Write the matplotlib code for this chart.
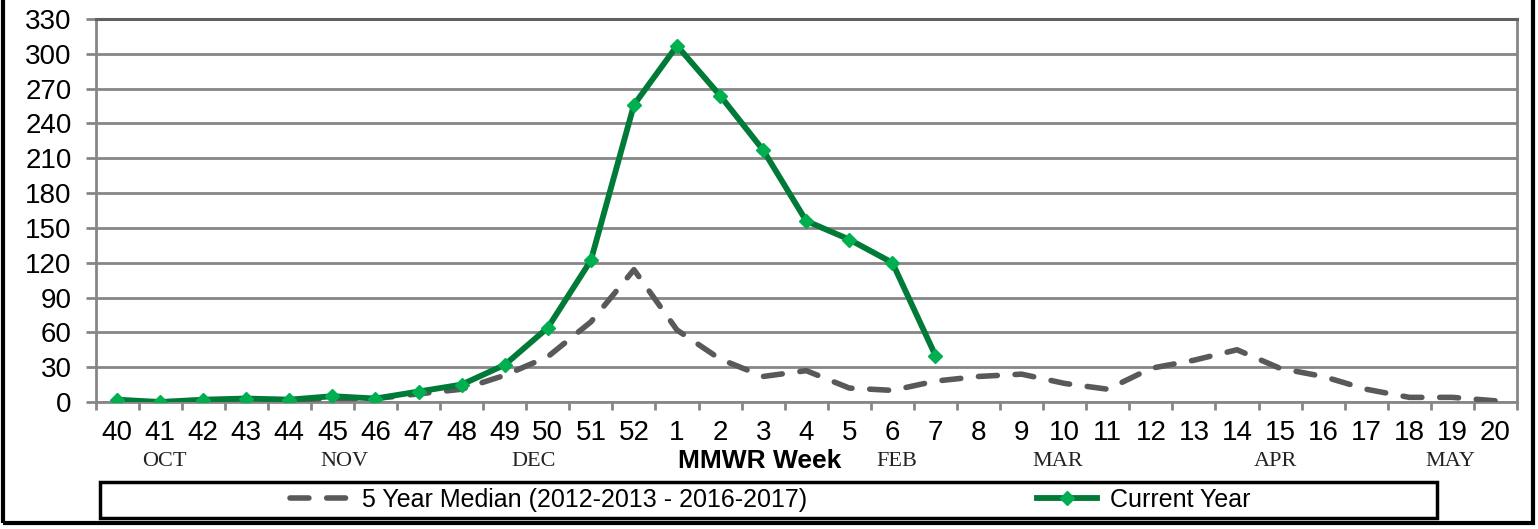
import matplotlib
matplotlib.use("Agg")
import matplotlib.pyplot as plt
from matplotlib.lines import Line2D
from matplotlib.patches import Rectangle
from matplotlib.ticker import FixedLocator, MultipleLocator
from matplotlib.transforms import blended_transform_factory

# semanas MMWR y valores
weeks = ["40", "41", "42", "43", "44", "45", "46", "47", "48", "49", "50", "51", "52",
         "1", "2", "3", "4", "5", "6", "7", "8", "9", "10", "11", "12", "13", "14",
         "15", "16", "17", "18", "19", "20"]
median_5yr = [1, 0, 1, 2, 2, 3, 3, 7, 11, 23, 39, 69, 114, 62, 37, 22, 27, 12, 10,
              18, 22, 24, 16, 11, 29, 36, 45, 29, 22, 11, 4, 4, 1]
current_year = [2, 0, 2, 3, 2, 5, 3, 9, 15, 32, 64, 122, 256, 307, 264, 217, 156,
                140, 120, 40]
months = ["OCT", "NOV", "DEC", "FEB", "MAR", "APR", "MAY"]
month_pos = [1.09, 5.27, 9.66, 18.1, 21.83, 26.9, 30.96]

sans = ["Liberation Sans Narrow", "Liberation Sans"]
serif = ["Liberation Serif"]
grid_c = "#868686"
med_c = "#595959"
green = "#007A37"
marker_c = "#00B050"

fig = plt.figure(figsize=(15.38, 5.29), dpi=100)
ax = fig.add_axes([95.5 / 1538, 1 - 402 / 529, (1517 - 95.5) / 1538, (402 - 19) / 529])

x_all = list(range(len(weeks)))
x_cur = list(range(len(current_year)))

ax.plot(x_all, median_5yr, color=med_c, lw=4, dashes=(3.4, 3.2),
        dash_capstyle="round", zorder=3)
ax.plot(x_cur, current_year, color=green, lw=4.2, marker="D", ms=7.5,
        mfc=marker_c, mec=marker_c, zorder=4)

ax.set_xlim(-0.5, len(weeks) - 0.5)
ax.set_ylim(0, 330)
ax.yaxis.set_major_locator(MultipleLocator(30))
ax.set_xticks(x_all)
ax.set_xticklabels(weeks, fontfamily=sans, fontsize=20)
ax.xaxis.set_minor_locator(FixedLocator([i - 0.5 for i in range(len(weeks) + 1)]))
ax.tick_params(axis="x", which="major", length=0, pad=13)
ax.tick_params(axis="x", which="minor", length=5.8, width=2, color=grid_c)
ax.tick_params(axis="y", length=7.2, width=2, color=grid_c, pad=10, labelsize=20)
for lab in ax.get_yticklabels():
    lab.set_fontfamily(sans)

ax.grid(axis="y", color=grid_c, lw=2, zorder=0)
ax.set_axisbelow(True)
for side in ["left", "bottom", "right"]:
    ax.spines[side].set_color(grid_c)
    ax.spines[side].set_linewidth(2)
ax.spines["top"].set_color("#606060")
ax.spines["top"].set_linewidth(2.2)

# etiquetas de meses y titulo del eje
month_tr = blended_transform_factory(ax.transData, fig.transFigure)
for name, xp in zip(months, month_pos):
    ax.text(xp, 1 - 462 / 529, name, transform=month_tr, fontsize=16,
            fontfamily=serif, color="#222222", ha="center", va="center")
fig.text(760 / 1538, 1 - 461 / 529, "MMWR Week", fontsize=19, fontweight="bold",
         fontfamily=sans, ha="center", va="center")

# recuadro de leyenda
fig.patches.append(Rectangle((100 / 1538, 1 - 518 / 529), (1437 - 100) / 1538, 36 / 529,
                             transform=fig.transFigure, fill=False, ec="black", lw=2.5))
handles = [
    Line2D([], [], color=med_c, lw=4, dashes=(3.4, 3.2), dash_capstyle="round"),
    Line2D([], [], color=green, lw=4.2, marker="D", ms=7.5, mfc=marker_c, mec=marker_c),
]
labels = ["5 Year Median (2012-2013 - 2016-2017)", "Current Year"]
fig.legend(handles, labels, loc="center", bbox_to_anchor=(770 / 1538, 1 - 500 / 529),
           ncol=2, frameon=False, prop={"family": sans, "size": 18},
           handlelength=2.4, columnspacing=9.2, handletextpad=0.5)

# marco exterior
fig.patches.append(Rectangle((3 / 1538, 1 - 523 / 529), 1530 / 1538, 540 / 529,
                             transform=fig.transFigure, fill=False, ec="black", lw=3))

fig.savefig("out.png", dpi=100)
